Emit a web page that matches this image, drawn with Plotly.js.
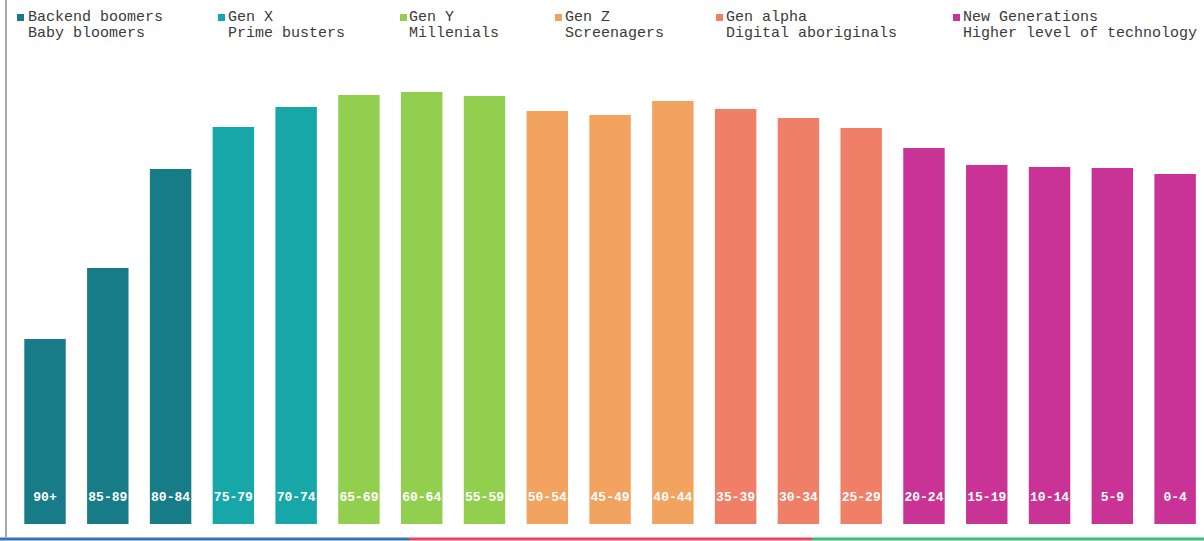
<!DOCTYPE html>
<html>
<head>
<meta charset="utf-8">
<script src="https://cdn.plot.ly/plotly-3.0.1.min.js"></script>
<style>
  html, body { margin: 0; padding: 0; background: #ffffff; }
  #chart { width: 1204px; height: 541px; }
</style>
</head>
<body>
<div id="chart"></div>
<script>
// Age groups, oldest first
const ageGroups = ['90+', '85-89', '80-84', '75-79', '70-74', '65-69', '60-64', '55-59', '50-54',
                   '45-49', '40-44', '35-39', '30-34', '25-29', '20-24', '15-19', '10-14', '5-9', '0-4'];
// Population per age group
const population = [185, 256, 355, 397, 417, 429, 432, 428, 413, 409, 423, 415, 406, 396, 376, 359, 357, 356, 350];

// Generations and how many consecutive age groups each one covers
const generations = ['Backend boomers', 'Gen X', 'Gen Y', 'Gen Z', 'Gen alpha', 'New Generations'];
const nicknames = ['Baby bloomers', 'Prime busters', 'Millenials', 'Screenagers', 'Digital aboriginals', 'Higher level of technology'];
const groupsPerGeneration = [3, 2, 3, 3, 3, 5];
const generationColors = ['#177b88', '#17a7a8', '#93cf4f', '#f1a35f', '#f07f67', '#c93396'];

// Colour of each bar from the generation it belongs to
const barColors = [];
groupsPerGeneration.forEach((n, g) => { for (let i = 0; i < n; i++) barColors.push(generationColors[g]); });

const W = 1204, H = 541, TOP = 80, BOTTOM = 17;
const plotH = H - TOP - BOTTOM;
const px = x => x / W;
const py = y => (H - BOTTOM - y) / plotH;

const mono = 'Liberation Mono, Courier New, monospace';

const bars = {
  type: 'bar',
  x: ageGroups,
  y: population,
  width: 0.66,
  marker: { color: barColors, line: { width: 0 } },
  hoverinfo: 'x+y',
  showlegend: false
};

// Age labels near the foot of every bar
const labels = {
  type: 'scatter',
  mode: 'text',
  x: ageGroups,
  y: ageGroups.map(() => 26),
  text: ageGroups,
  textposition: 'middle center',
  textfont: { family: mono, size: 13, color: '#ffffff', weight: 'bold' },
  hoverinfo: 'skip',
  showlegend: false
};

// Legend: coloured square, generation name and its nickname underneath
const legendMarkX = [17, 218, 400, 555, 716, 953];
const legendTextX = [26, 226, 407, 563, 724, 961];
const shapes = [];
const annotations = [];
generations.forEach((name, i) => {
  shapes.push({
    type: 'rect', xref: 'paper', yref: 'paper',
    x0: px(legendMarkX[i]), x1: px(legendMarkX[i] + 7),
    y0: py(21), y1: py(14),
    fillcolor: generationColors[i], line: { width: 0 }
  });
  annotations.push({
    xref: 'paper', yref: 'paper', x: px(legendTextX[i]), y: py(17),
    xanchor: 'left', yanchor: 'middle', showarrow: false, text: name,
    font: { family: mono, size: 15, color: '#3a3a3a' }
  });
  annotations.push({
    xref: 'paper', yref: 'paper', x: px(legendTextX[i]), y: py(34),
    xanchor: 'left', yanchor: 'middle', showarrow: false, text: nicknames[i],
    font: { family: mono, size: 15, color: '#3a3a3a' }
  });
});

// Frame: grey rule on the left and a three-colour rule along the bottom
shapes.push({ type: 'line', xref: 'paper', yref: 'paper', x0: px(6), x1: px(6), y0: py(0), y1: py(537),
              line: { color: '#8a8a8a', width: 1.5 } });
const footColors = ['#3b6fb6', '#e2485f', '#3dbb7d'];
const footStops = [0, 409, 812, 1204];
footColors.forEach((c, i) => {
  shapes.push({ type: 'line', xref: 'paper', yref: 'paper',
                x0: px(footStops[i]), x1: px(footStops[i + 1]), y0: py(539), y1: py(539),
                line: { color: c, width: 3 } });
});

const layout = {
  width: W, height: H,
  margin: { l: 0, r: 0, t: TOP, b: BOTTOM, pad: 0 },
  paper_bgcolor: '#ffffff',
  plot_bgcolor: '#ffffff',
  showlegend: false,
  xaxis: { type: 'category', range: [-0.717, 18.46], showticklabels: false, showgrid: false,
           zeroline: false, showline: false, ticks: '', fixedrange: true },
  yaxis: { range: [0, plotH], showticklabels: false, showgrid: false, zeroline: false,
           showline: false, ticks: '', fixedrange: true },
  shapes: shapes,
  annotations: annotations
};

Plotly.newPlot('chart', [bars, labels], layout, { displayModeBar: false, staticPlot: true });
</script>
</body>
</html>
